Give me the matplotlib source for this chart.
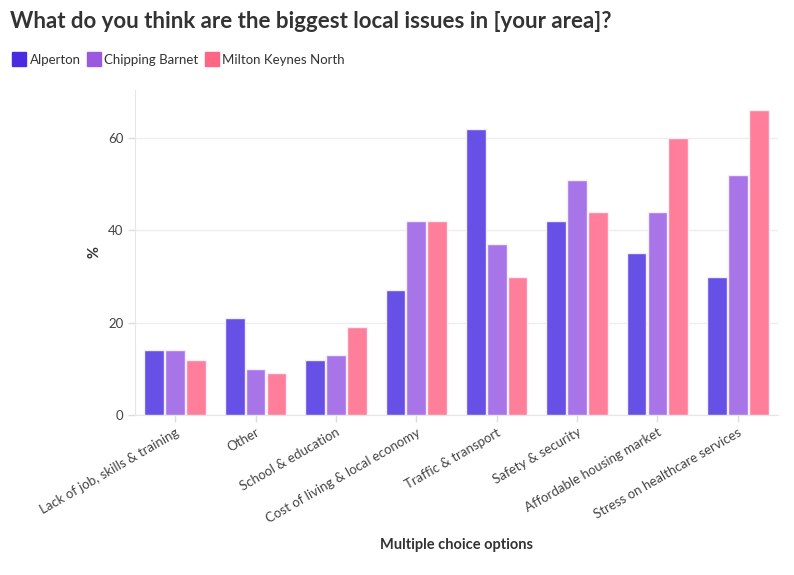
import numpy as np
import matplotlib
matplotlib.use('Agg')
import matplotlib.pyplot as plt
from matplotlib.lines import Line2D

plt.rcParams['font.family'] = ['Lato', 'DejaVu Sans']

categories = ['Lack of job, skills & training', 'Other', 'School & education',
              'Cost of living & local economy', 'Traffic & transport',
              'Safety & security', 'Affordable housing market',
              'Stress on healthcare services']
series = ['Alperton', 'Chipping Barnet', 'Milton Keynes North']
alperton = [14, 21, 12, 27, 62, 42, 35, 30]
chipping_barnet = [14, 10, 13, 42, 37, 51, 44, 52]
milton_keynes_north = [12, 9, 19, 42, 30, 44, 60, 66]

values = [alperton, chipping_barnet, milton_keynes_north]
bar_colors = ['#6750e6', '#a875e9', '#ff7f9b']
legend_colors = ['#4a2be0', '#9b59e0', '#ff6584']
text_col = '#333333'

fig = plt.figure(figsize=(7.94, 5.75), dpi=100)
ax = fig.add_axes([135/794, 1 - 415/575, 643/794, 325/575])

x = np.arange(len(categories))
w = 0.245
offs = [-0.26, 0, 0.26]
for vals, c, o in zip(values, bar_colors, offs):
    ax.bar(x + o, vals, width=w, color=c, edgecolor='#f3eefc', linewidth=1.0, zorder=3)

ax.set_xlim(-0.5, len(categories) - 0.5)
ax.set_ylim(0, 70.4)
ax.set_yticks([0, 20, 40, 60])
ax.set_xticks(x)
ax.set_xticklabels(categories, rotation=30, ha='right', rotation_mode='anchor',
                   fontsize=9.5, color='#444444')
ax.tick_params(axis='y', labelsize=9.5, labelcolor='#444444', color='#dddddd', length=5, width=1)
ax.tick_params(axis='x', color='#dddddd', length=5, width=1, pad=3)
ax.grid(axis='y', color='#eeeeee', linewidth=1, zorder=0)
for s in ['top', 'right']:
    ax.spines[s].set_visible(False)
ax.spines['left'].set_color('#e6e6e6')
ax.spines['bottom'].set_color('#e6e6e6')

ax.set_ylabel('%', fontsize=10.5, fontweight='bold', color=text_col)
ax.yaxis.set_label_coords(-0.052, 0.5)
ax.set_xlabel('Multiple choice options', fontsize=10.5, fontweight='bold', color=text_col)
ax.xaxis.set_label_coords(0.5, -0.38)

fig.text(10/794, 1 - 22/575, 'What do you think are the biggest local issues in [your area]?',
         fontsize=16, fontweight='bold', color=text_col, va='center', ha='left')

handles = [Line2D([0], [0], marker='s', linestyle='none', markersize=10,
                  markerfacecolor=c, markeredgecolor=c) for c in legend_colors]
fig.legend(handles, series, loc='center left', bbox_to_anchor=(2/794, 1 - 60/575),
           ncol=3, frameon=False, fontsize=9.5, handlelength=0.8, handletextpad=0.4,
           columnspacing=0.6, labelcolor='#333333')

fig.savefig('out.png', dpi=100)
